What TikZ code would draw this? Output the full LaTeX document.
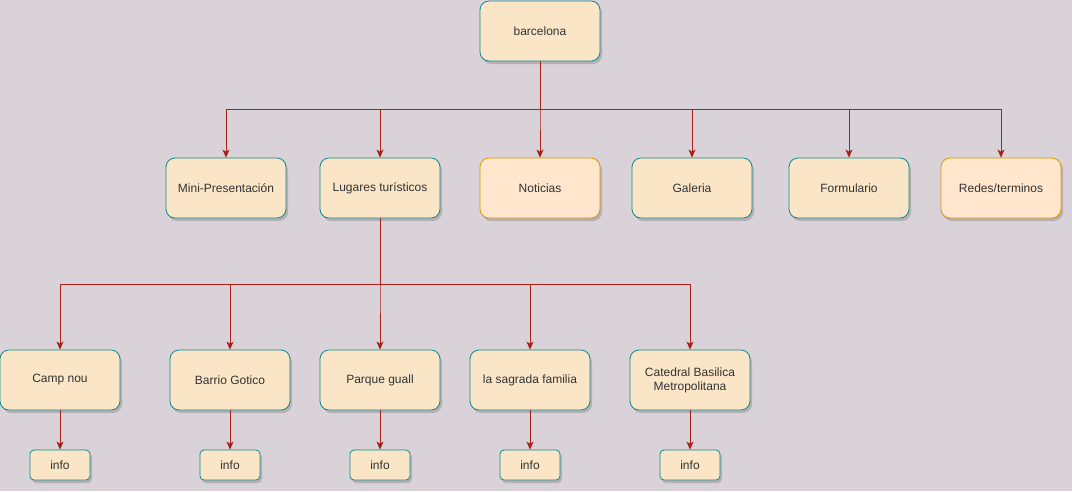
\documentclass[tikz,border=0pt]{standalone}
\usepackage{fontspec}
\setmainfont{Liberation Sans}
\usetikzlibrary{arrows.meta,shadows}
\definecolor{bg}{HTML}{DAD2D9}
\definecolor{boxfill}{HTML}{FAE5C7}
\definecolor{boxline}{HTML}{0F8B8D}
\definecolor{orfill}{HTML}{FFE6CC}
\definecolor{orline}{HTML}{D79B00}
\definecolor{edge}{HTML}{A8201A}
\definecolor{txt}{HTML}{333333}
\tikzset{
  box/.style={draw=boxline, fill=boxfill, rounded corners=9pt, minimum width=120pt, minimum height=60pt,
    inner sep=0pt, align=center, text=txt, font=\fontsize{12pt}{14pt}\selectfont, line width=0.8pt,
    drop shadow={shadow xshift=2pt, shadow yshift=-3pt, opacity=0.25, fill=black!70}},
  obox/.style={box, draw=orline, fill=orfill},
  infobox/.style={box, minimum width=60pt, minimum height=30pt, rounded corners=4pt},
  conn/.style={draw=edge, line width=0.8pt, -{Stealth[length=8pt,width=7pt,inset=2pt]}},
  plainconn/.style={draw=edge, line width=0.8pt},
}
\begin{document}
\begin{tikzpicture}[x=1pt,y=-1pt]
\fill[bg] (0,0) rectangle (1072,491);
\useasboundingbox (0,0) rectangle (1072,491);
\node[box] (barc) at (540,31) {barcelona};
\node[box] (mini) at (226,188) {Mini-Presentación};
\node[box] (lug) at (380,188) {Lugares turísticos};
\node[obox] (not) at (540,188) {Noticias};
\node[box] (gal) at (692,188) {Galeria};
\node[box] (form) at (849,188) {Formulario};
\node[obox] (red) at (1001,188) {Redes/terminos};
\node[box] (camp) at (60,380) {Camp nou};
\node[box] (barr) at (230,380) {Barrio Gotico};
\node[box] (parq) at (380,380) {Parque guall};
\node[box] (sagr) at (530,380) {la sagrada familia};
\node[box] (cat) at (690,380) {Catedral Basilica\\Metropolitana};
\node[infobox] (i1) at (60,465) {info};
\node[infobox] (i2) at (230,465) {info};
\node[infobox] (i3) at (380,465) {info};
\node[infobox] (i4) at (530,465) {info};
\node[infobox] (i5) at (690,465) {info};
\coordinate (bus1) at (540,109);
\coordinate (bus2) at (380,284);
\foreach \n in {mini,lug,not,gal,form,red}
  \draw[conn] (barc.south) -- (bus1) -| (\n.north);
\foreach \n in {camp,barr,parq,sagr,cat}
  \draw[conn] (lug.south) -- (bus2) -| (\n.north);
\draw[conn] (camp) -- (i1);
\draw[conn] (barr) -- (i2);
\draw[conn] (parq) -- (i3);
\draw[conn] (sagr) -- (i4);
\draw[conn] (cat) -- (i5);
\end{tikzpicture}
\end{document}
